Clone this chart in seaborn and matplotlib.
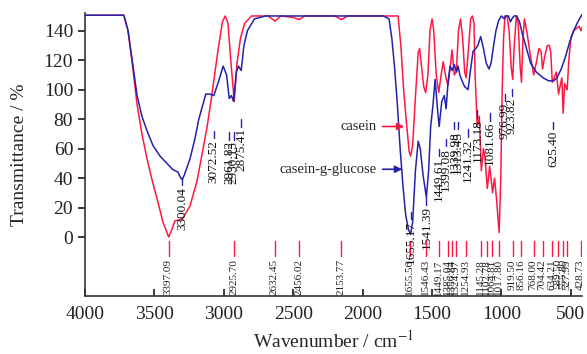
import numpy as np
import pandas as pd
import seaborn as sns
import matplotlib.pyplot as plt

# 曲线数据 (wavenumber, transmittance)
casein_wn = [4000, 3720, 3690, 3660, 3625, 3590, 3553, 3515, 3481, 3438, 3397, 3375, 3352, 3301,
             3244, 3193, 3150, 3120, 3090, 3040, 3010, 2990, 2970, 2950, 2925, 2905, 2880, 2850,
             2800, 2680, 2632, 2590, 2500, 2456, 2420, 2200, 2153, 2110, 1760, 1745, 1725, 1705,
             1685, 1665, 1655, 1640, 1620, 1600, 1590, 1575, 1560, 1546, 1530, 1515, 1500, 1488,
             1470, 1452, 1435, 1420, 1400, 1385, 1370, 1356, 1340, 1325, 1310, 1295, 1280, 1265,
             1255, 1240, 1222, 1210, 1198, 1190, 1175, 1160, 1145, 1130, 1120, 1102, 1085, 1064,
             1050, 1035, 1017, 1005, 995, 985, 975, 960, 945, 930, 919, 908, 893, 880, 865, 856,
             845, 835, 815, 790, 768, 750, 730, 715, 704, 690, 670, 655, 645, 634, 620, 605, 589,
             575, 565, 556, 545, 535, 527, 515, 500, 480, 455, 440, 428, 415]
casein_t = [150.5, 150.5, 140, 118, 90, 70, 53, 38, 26, 10, 0, 5, 11, 12,
            21, 38, 60, 75, 94, 128, 146, 150, 145, 120, 92, 118, 135, 145,
            150, 150, 146.5, 150, 149, 147.5, 150, 150, 147.5, 150, 150, 150, 130, 100,
            78, 58, 55, 62, 95, 125, 128, 115, 102, 98, 110, 140, 148, 140,
            110, 98, 110, 119, 108, 103, 115, 127, 110, 112, 140, 148, 135, 112,
            108, 125, 148, 150, 145, 110, 75, 82, 45, 60, 55, 33, 48, 30,
            40, 25, 3, 40, 100, 135, 150, 150, 140, 115, 107, 130, 150, 145, 115, 105,
            135, 148, 138, 122, 110, 118, 128, 126, 114, 122, 130, 130, 125, 105, 108, 112, 97,
            104, 108, 84, 104, 102, 100, 120, 135, 140, 142, 143, 140, 143]

glucose_wn = [4000, 3720, 3690, 3660, 3625, 3590, 3553, 3510, 3460, 3410, 3370, 3330, 3310, 3300,
              3285, 3244, 3210, 3180, 3130, 3100, 3072, 3040, 3005, 2980, 2961, 2945, 2930, 2910,
              2895, 2875, 2855, 2830, 2780, 2700, 1850, 1810, 1790, 1770, 1750, 1730, 1710, 1690,
              1670, 1655, 1640, 1620, 1600, 1585, 1565, 1541, 1525, 1510, 1493, 1478, 1462, 1449,
              1430, 1412, 1399, 1385, 1370, 1355, 1340, 1325, 1313, 1300, 1280, 1265, 1241, 1225,
              1205, 1185, 1170, 1150, 1130, 1110, 1090, 1075, 1060, 1040, 1020, 1000, 980, 970,
              950, 935, 925, 910, 890, 870, 850, 820, 790, 750, 700, 660, 625, 600, 570, 540, 510,
              480, 450, 420]
glucose_t = [150.5, 150.5, 140, 120, 96, 82, 72, 62, 55, 50, 46, 44, 40, 39,
             42, 53, 66, 80, 97, 97, 96, 105, 116, 110, 94, 96, 92, 112,
             116, 113, 130, 140, 148, 150, 150, 148, 135, 115, 90, 60, 35, 15,
             5, 2, 10, 45, 65, 60, 42, 27, 45, 75, 90, 107, 88, 75,
             92, 96, 87, 105, 116, 113, 117, 112, 116, 110, 105, 102, 100, 112,
             126, 128, 130, 136, 128, 118, 114, 118, 128, 140, 147, 150, 148, 150,
             150, 146, 148, 150, 150, 146, 138, 128, 118, 112, 108, 106, 106, 108, 114, 122, 132,
             140, 146, 151]

# 峰位标注
red_labels = ['3397.09', '2925.70', '2632.45', '2456.02', '2153.77', '1655.56', '1546.43',
              '1449.17', '1385.04', '1356.84', '1324.97', '1254.93', '1145.28', '1102.78',
              '1064.81', '1017.80', '919.50', '856.16', '768.00', '704.42', '634.21',
              '589.50', '555.80', '527.99', '428.73']
blue_labels = ['3300.04', '3072.52', '2961.82', '2930.13', '2875.41', '1655.17', '1541.39',
               '1449.61', '1399.08', '1339.98', '1313.45', '1241.32', '1173.18', '1081.66',
               '976.99', '923.82', '625.40']
# top of the small blue tick for each label
blue_tick_top = [40, 72, 71, 71, 80, 17, 27, 60, 66.5, 78, 78, 73, 86, 84, 97, 100.5, 78]

red_c = '#ff1744'
blue_c = '#2222aa'

df = pd.concat([
    pd.DataFrame({'wn': casein_wn, 'T': casein_t, 'sample': 'casein'}),
    pd.DataFrame({'wn': glucose_wn, 'T': glucose_t, 'sample': 'casein-g-glucose'}),
])

sns.set_theme(style='white')
plt.rcParams['font.family'] = ['Liberation Serif', 'DejaVu Serif']
plt.rcParams['mathtext.fontset'] = 'stix'

fig = plt.figure(figsize=(5.87, 3.54), dpi=100)
ax = fig.add_axes([0.1448, 0.1638, 0.8467, 0.7994])
sns.lineplot(data=df, x='wn', y='T', hue='sample', estimator=None, sort=False,
             palette={'casein': red_c, 'casein-g-glucose': blue_c}, lw=1.1,
             legend=False, ax=ax)

for lab in red_labels:
    w = float(lab)
    ax.plot([w, w], [-2.5, -13], color=red_c, lw=1.0)
    ax.text(w + 4, -15, lab, rotation=90, ha='center', va='top', fontsize=8,
            color='#222222')

for lab, top in zip(blue_labels, blue_tick_top):
    w = float(lab)
    ax.plot([w, w], [top, top - 5], color=blue_c, lw=1.0)
    ax.text(w, top - 6, lab, rotation=90, ha='center', va='top', fontsize=9.5,
            color='#111111')

ax.annotate('casein', xy=(1680, 75), xytext=(1900, 75), fontsize=10.5,
            ha='right', va='center',
            arrowprops=dict(arrowstyle='-|>', color=red_c, lw=1.2))
ax.annotate('casein-g-glucose', xy=(1695, 46), xytext=(1900, 46), fontsize=10.5,
            ha='right', va='center',
            arrowprops=dict(arrowstyle='-|>', color=blue_c, lw=1.2))

ax.set_xlim(4000, 420)
ax.set_ylim(-40, 152)
ax.set_xticks([4000, 3500, 3000, 2500, 2000, 1500, 1000, 500])
ax.set_yticks(np.arange(0, 141, 20))
ax.tick_params(axis='x', direction='in', length=5, labelsize=14, colors='#222222', pad=7)
ax.tick_params(axis='y', direction='out', length=5, labelsize=14, colors='#222222')
ax.tick_params(bottom=True, left=True)
ax.set_xlabel('Wavenumber / cm$^{-1}$', fontsize=14, labelpad=5)
ax.set_ylabel('Transmittance / %', fontsize=14)
ax.yaxis.set_label_coords(-0.115, 0.5)
sns.despine(ax=ax)
for s in ['left', 'bottom']:
    ax.spines[s].set_color('#333333')
    ax.spines[s].set_linewidth(1.2)

plt.savefig('out.png', dpi=100)
